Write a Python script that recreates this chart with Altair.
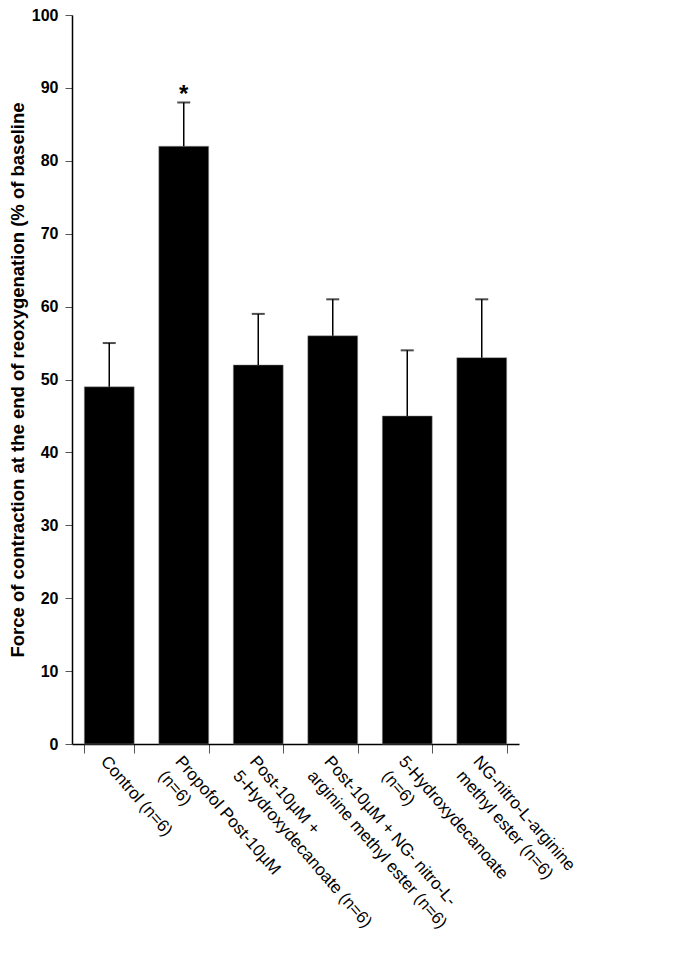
import altair as alt
import pandas as pd

groups = [
    "Control (n=6)",
    "Propofol Post-10\u00b5M\n(n=6)",
    "Post-10\u00b5M +\n5-Hydroxydecanoate (n=6)",
    "Post-10\u00b5M + NG- nitro-L-\narginine methyl ester (n=6)",
    "5-Hydroxydecanoate\n(n=6)",
    "NG-nitro-L-arginine\nmethyl ester (n=6)",
]
means = [49, 82, 52, 56, 45, 53]
errors = [6, 6, 7, 5, 9, 8]
marks = ["", "*", "", "", "", ""]

df = pd.DataFrame({
    "group": groups,
    "mean": means,
    "upper": [m + e for m, e in zip(means, errors)],
    "mark": marks,
})

FONT = "Liberation Sans"

x = alt.X(
    "group:N",
    sort=groups,
    scale=alt.Scale(paddingInner=0.33, paddingOuter=0.165),
    axis=alt.Axis(
        title=None,
        labelAngle=49,
        labelAlign="left",
        labelBaseline="top",
        labelExpr="split(datum.label, '\\n')",
        labelFont=FONT,
        labelFontSize=17,
        labelColor="black",
        labelLineHeight=22,
        labelPadding=0,
        labelLimit=400,
        tickBand="extent",
        tickSize=9,
        tickColor="#555555",
        domainColor="black",
        domainWidth=1.5,
    ),
)

y_axis = alt.Axis(
    title="Force of contraction at the end of reoxygenation (% of baseline",
    titleFont=FONT,
    titleFontSize=18.5,
    titleFontWeight="bold",
    titleColor="black",
    titlePadding=4,
    labelFont=FONT,
    labelFontSize=16,
    labelFontWeight="bold",
    labelColor="black",
    labelPadding=7,
    values=list(range(0, 101, 10)),
    tickSize=7,
    tickColor="#555555",
    domainColor="black",
    domainWidth=1.5,
    grid=False,
)

base = alt.Chart(df)

bars = base.mark_bar(color="black", stroke="#999999", strokeWidth=0.5).encode(
    x=x,
    y=alt.Y("mean:Q", scale=alt.Scale(domain=[0, 100], nice=False), axis=y_axis),
)

err = base.mark_rule(color="black", strokeWidth=1.5).encode(
    x=alt.X("group:N", sort=groups),
    y="mean:Q",
    y2="upper:Q",
)

caps = base.mark_tick(color="black", thickness=2, size=13, orient="horizontal").encode(
    x=alt.X("group:N", sort=groups),
    y="upper:Q",
)

star = base.mark_text(
    font=FONT, fontSize=24, fontWeight="bold", baseline="bottom", dy=5, color="black"
).encode(
    x=alt.X("group:N", sort=groups),
    y="upper:Q",
    text="mark:N",
)

chart = (
    alt.layer(bars, err, caps, star)
    .properties(
        width=447,
        height=729,
        autosize=alt.AutoSizeParams(type="none"),
        padding={"left": 64, "top": 7, "right": 150, "bottom": 201},
    )
    .configure_view(stroke=None)
)

chart.save("out.html", embed_options={"renderer": "svg", "actions": False})
